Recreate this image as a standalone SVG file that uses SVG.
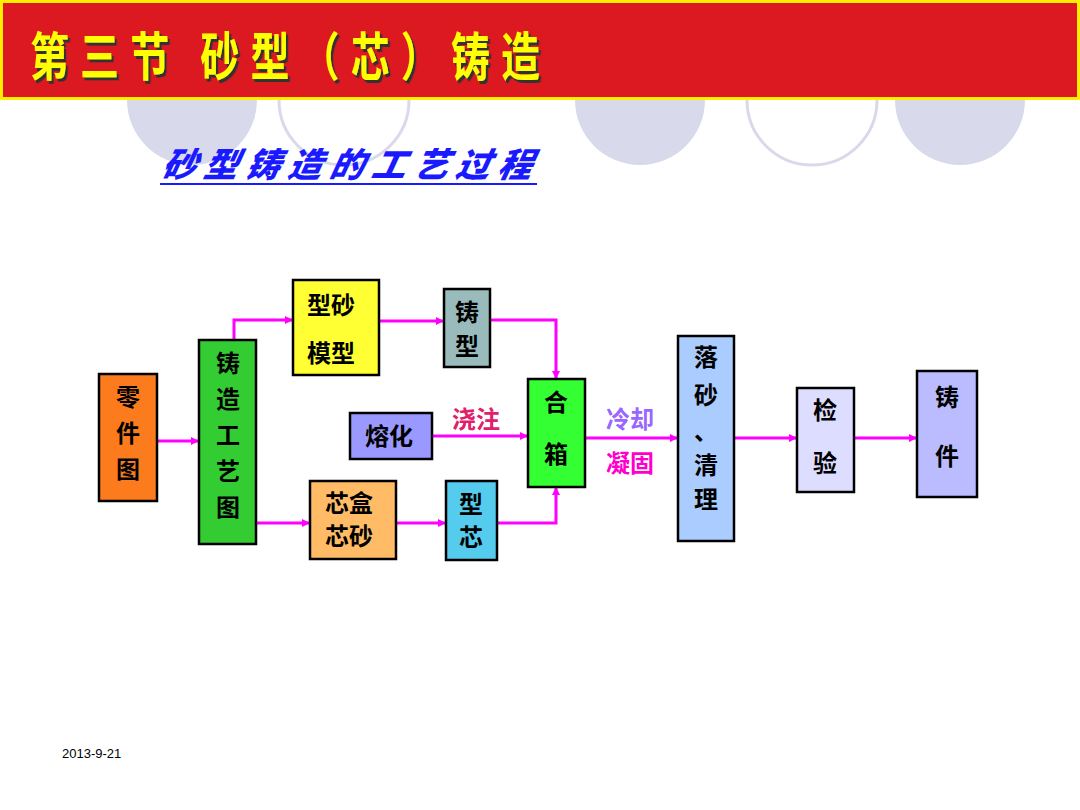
<svg xmlns="http://www.w3.org/2000/svg" width="1080" height="810" viewBox="0 0 1080 810">
<defs>
<marker id="ah" markerWidth="8" markerHeight="8" refX="7" refY="4" orient="auto" markerUnits="userSpaceOnUse"><path d="M0,0 L8,4 L0,8 z" fill="#ff00ff"/></marker>
<filter id="sh" x="-5%" y="-20%" width="110%" height="140%"><feDropShadow dx="3" dy="3" stdDeviation="0.5" flood-color="#333"/></filter>
<style>
.b{stroke:#000;stroke-width:2.5}
.t{font-family:"Noto Sans CJK SC","Liberation Sans",sans-serif;font-weight:bold;font-size:24px;fill:#000;text-anchor:middle}
.c{fill:none;stroke:#ff00ff;stroke-width:3;marker-end:url(#ah)}
.l{font-family:"Noto Sans CJK SC",sans-serif;font-weight:bold;font-size:24px;text-anchor:middle}
</style>
</defs>
<rect width="1080" height="810" fill="#fff"/>
<g id="bg">
<circle cx="192" cy="100" r="65" fill="#d9d9ec"/>
<circle cx="344" cy="100" r="65" fill="none" stroke="#d9d9ec" stroke-width="3"/>
<circle cx="640" cy="100" r="65" fill="#d9d9ec"/>
<circle cx="812" cy="100" r="65" fill="none" stroke="#d9d9ec" stroke-width="3"/>
<circle cx="960" cy="100" r="65" fill="#d9d9ec"/>
</g>
<g id="header">
<rect x="1.5" y="1.5" width="1077" height="97" fill="#dc1820" stroke="#ffee00" stroke-width="3"/>
<text transform="translate(30,76) scale(0.75,1)" font-family="Noto Sans CJK SC,sans-serif" font-weight="bold" font-size="52" fill="#ffff00" filter="url(#sh)" textLength="680" lengthAdjust="spacing">第三节 砂型（芯）铸造</text>
</g>
<g id="subtitle">
<text x="160" y="177" font-family="Noto Sans CJK SC,sans-serif" font-weight="900" font-style="italic" font-size="34" fill="#1a1aff" letter-spacing="8" transform="skewX(-12) translate(38,0)">砂型铸造的工艺过程</text>
<line x1="160" y1="184" x2="537" y2="184" stroke="#1a1aff" stroke-width="2"/>
</g>
<g id="connectors">
<path class="c" d="M157,441 H198"/>
<path class="c" d="M234,340 V320 H292"/>
<path class="c" d="M256,523 H309"/>
<path class="c" d="M379,321 H443"/>
<path class="c" d="M490,320 H556 V378"/>
<path class="c" d="M432,436 H527"/>
<path class="c" d="M396,523 H445"/>
<path class="c" d="M497,523 H556 V488"/>
<path class="c" d="M585,438 H677"/>
<path class="c" d="M734,438 H796"/>
<path class="c" d="M854,438 H916"/>
</g>
<g id="labels">
<text class="l" x="476" y="428" fill="#e0206a">浇注</text>
<text class="l" x="630" y="428" fill="#9966ff">冷却</text>
<text class="l" x="630" y="472" fill="#ff00cc">凝固</text>
</g>
<g id="n1"><rect class="b" x="99" y="374" width="58" height="127" fill="#fb7b1d"/><text class="t" x="128" y="406">零</text><text class="t" x="128" y="442">件</text><text class="t" x="128" y="478">图</text></g>
<g id="n2"><rect class="b" x="199" y="340" width="57" height="204" fill="#33cc33"/><text class="t" x="228" y="372">铸</text><text class="t" x="228" y="408">造</text><text class="t" x="228" y="444">工</text><text class="t" x="228" y="480">艺</text><text class="t" x="228" y="516">图</text></g>
<g id="n3"><rect class="b" x="293" y="280" width="86" height="95" fill="#ffff33"/><text class="t" x="331" y="314">型砂</text><text class="t" x="331" y="362">模型</text></g>
<g id="n4"><rect class="b" x="444" y="289" width="46" height="78" fill="#99bbbb"/><text class="t" x="467" y="321">铸</text><text class="t" x="467" y="355">型</text></g>
<g id="n5"><rect class="b" x="350" y="413" width="82" height="46" fill="#9999ff"/><text class="t" x="389" y="445">熔化</text></g>
<g id="n6"><rect class="b" x="310" y="481" width="86" height="78" fill="#ffbb66"/><text class="t" x="349" y="512">芯盒</text><text class="t" x="349" y="545">芯砂</text></g>
<g id="n7"><rect class="b" x="446" y="481" width="51" height="79" fill="#55ccee"/><text class="t" x="471" y="513">型</text><text class="t" x="471" y="546">芯</text></g>
<g id="n8"><rect class="b" x="528" y="379" width="57" height="108" fill="#33ff33"/><text class="t" x="556" y="411">合</text><text class="t" x="556" y="463">箱</text></g>
<g id="n9"><rect class="b" x="678" y="336" width="56" height="205" fill="#aaccff"/><text class="t" x="706" y="366">落</text><text class="t" x="706" y="404">砂</text><text class="t" x="706" y="440">、</text><text class="t" x="706" y="474">清</text><text class="t" x="706" y="508">理</text></g>
<g id="n10"><rect class="b" x="797" y="388" width="57" height="104" fill="#ddddff"/><text class="t" x="825" y="419">检</text><text class="t" x="825" y="472">验</text></g>
<g id="n11"><rect class="b" x="917" y="371" width="60" height="126" fill="#bbbbff"/><text class="t" x="947" y="406" font-size="28">铸</text><text class="t" x="947" y="465" font-size="28">件</text></g>
<text x="62" y="758" font-family="Liberation Sans,sans-serif" font-size="13" fill="#000">2013-9-21</text>
</svg>
